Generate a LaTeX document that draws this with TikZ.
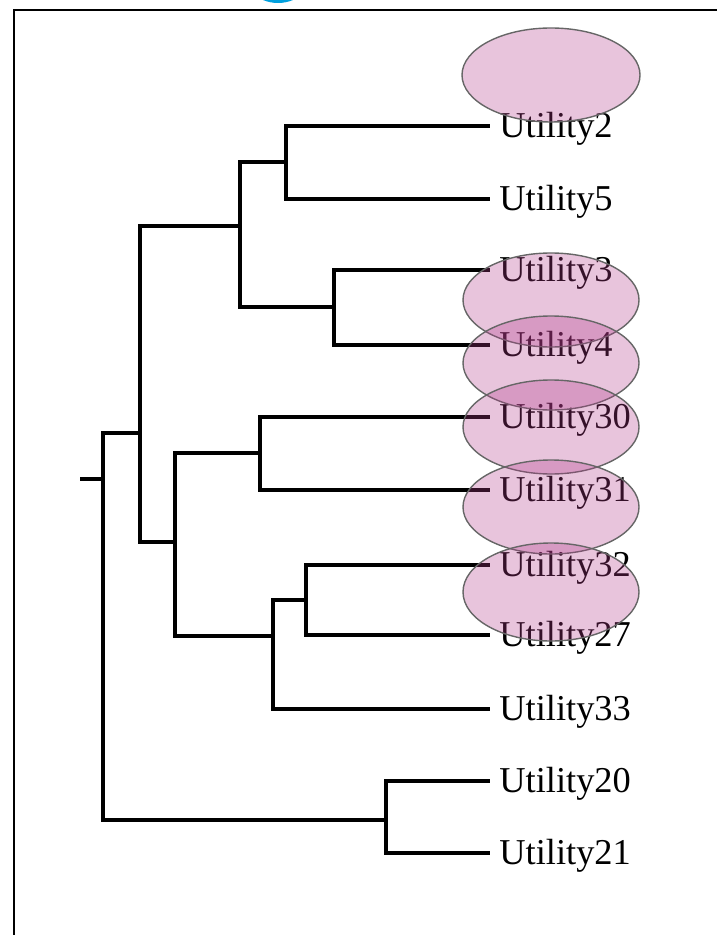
\documentclass[tikz,border=0pt]{standalone}
\usepackage{fontspec}
\setmainfont{Liberation Serif}
\definecolor{logoblue}{RGB}{0,160,222}
\definecolor{hipink}{RGB}{178,58,138}
\begin{document}
\begin{tikzpicture}[x=0.5pt,y=-0.5pt,
  branch/.style={line width=2pt,line cap=rect},
  leaflabel/.style={anchor=west,inner sep=0pt,xshift=5.5pt,yshift=-1.5pt,font=\fontsize{18.2}{20}\selectfont},
  hilite/.style={draw=black!60,line width=0.7pt,fill=hipink,fill opacity=0.3},
  frameline/.style={line width=1.2pt}]
\useasboundingbox (0,0) rectangle (717,935);
\clip (0,0) rectangle (717,935);
% logo fragment and frame
\fill[logoblue] (278,-36) circle [radius=39];
\draw[frameline] (14,935) -- (14,10) -- (717,10);
% leaf tips
\coordinate (t2) at (488,126);
\coordinate (t5) at (488,199);
\coordinate (t3) at (488,270);
\coordinate (t4) at (488,345);
\coordinate (t30) at (488,417);
\coordinate (t31) at (488,490);
\coordinate (t32) at (488,565);
\coordinate (t27) at (488,635);
\coordinate (t33) at (488,709);
\coordinate (t20) at (488,781);
\coordinate (t21) at (488,853);
% labels
\node[leaflabel] (u2) at (t2) {Utility2};
\node[leaflabel] (u5) at (t5) {Utility5};
\node[leaflabel] (u3) at (t3) {Utility3};
\node[leaflabel] (u4) at (t4) {Utility4};
\node[leaflabel] (u30) at (t30) {Utility30};
\node[leaflabel] (u31) at (t31) {Utility31};
\node[leaflabel] (u32) at (t32) {Utility32};
\node[leaflabel] (u27) at (t27) {Utility27};
\node[leaflabel] (u33) at (t33) {Utility33};
\node[leaflabel] (u20) at (t20) {Utility20};
\node[leaflabel] (u21) at (t21) {Utility21};
% internal nodes (elbow corners)
\coordinate (n25) at (286,162);
\coordinate (n34) at (334,307);
\coordinate (nA) at (240,226);
\coordinate (n3031) at (260,453);
\coordinate (n3227) at (306,600);
\coordinate (nB) at (273,636);
\coordinate (nC) at (175,542);
\coordinate (nD) at (140,433);
\coordinate (n2021) at (386,820);
\coordinate (root) at (103,479);
\coordinate (stub) at (82,479);
% branches
\draw[branch] (t2) -| (n25) |- (t5);
\draw[branch] (t3) -| (n34) |- (t4);
\draw[branch] (n25) -| (nA) |- (n34);
\draw[branch] (t30) -| (n3031) |- (t31);
\draw[branch] (t32) -| (n3227) |- (t27);
\draw[branch] (n3227) -| (nB) |- (t33);
\draw[branch] (n3031) -| (nC) |- (nB);
\draw[branch] (nA) -| (nD) |- (nC);
\draw[branch] (t20) -| (n2021) |- (t21);
\draw[branch] (nD) -| (root) |- (n2021);
\draw[branch] (stub) -- (root);
% highlight ellipses
\path[hilite] (551,75) ellipse [x radius=89, y radius=47];
\path[hilite] (551,300) ellipse [x radius=88, y radius=47];
\path[hilite] (551,363) ellipse [x radius=88, y radius=47];
\path[hilite] (551,427) ellipse [x radius=88, y radius=47];
\path[hilite] (551,507) ellipse [x radius=88, y radius=47];
\path[hilite] (551,592) ellipse [x radius=88, y radius=49];
\end{tikzpicture}
\end{document}
